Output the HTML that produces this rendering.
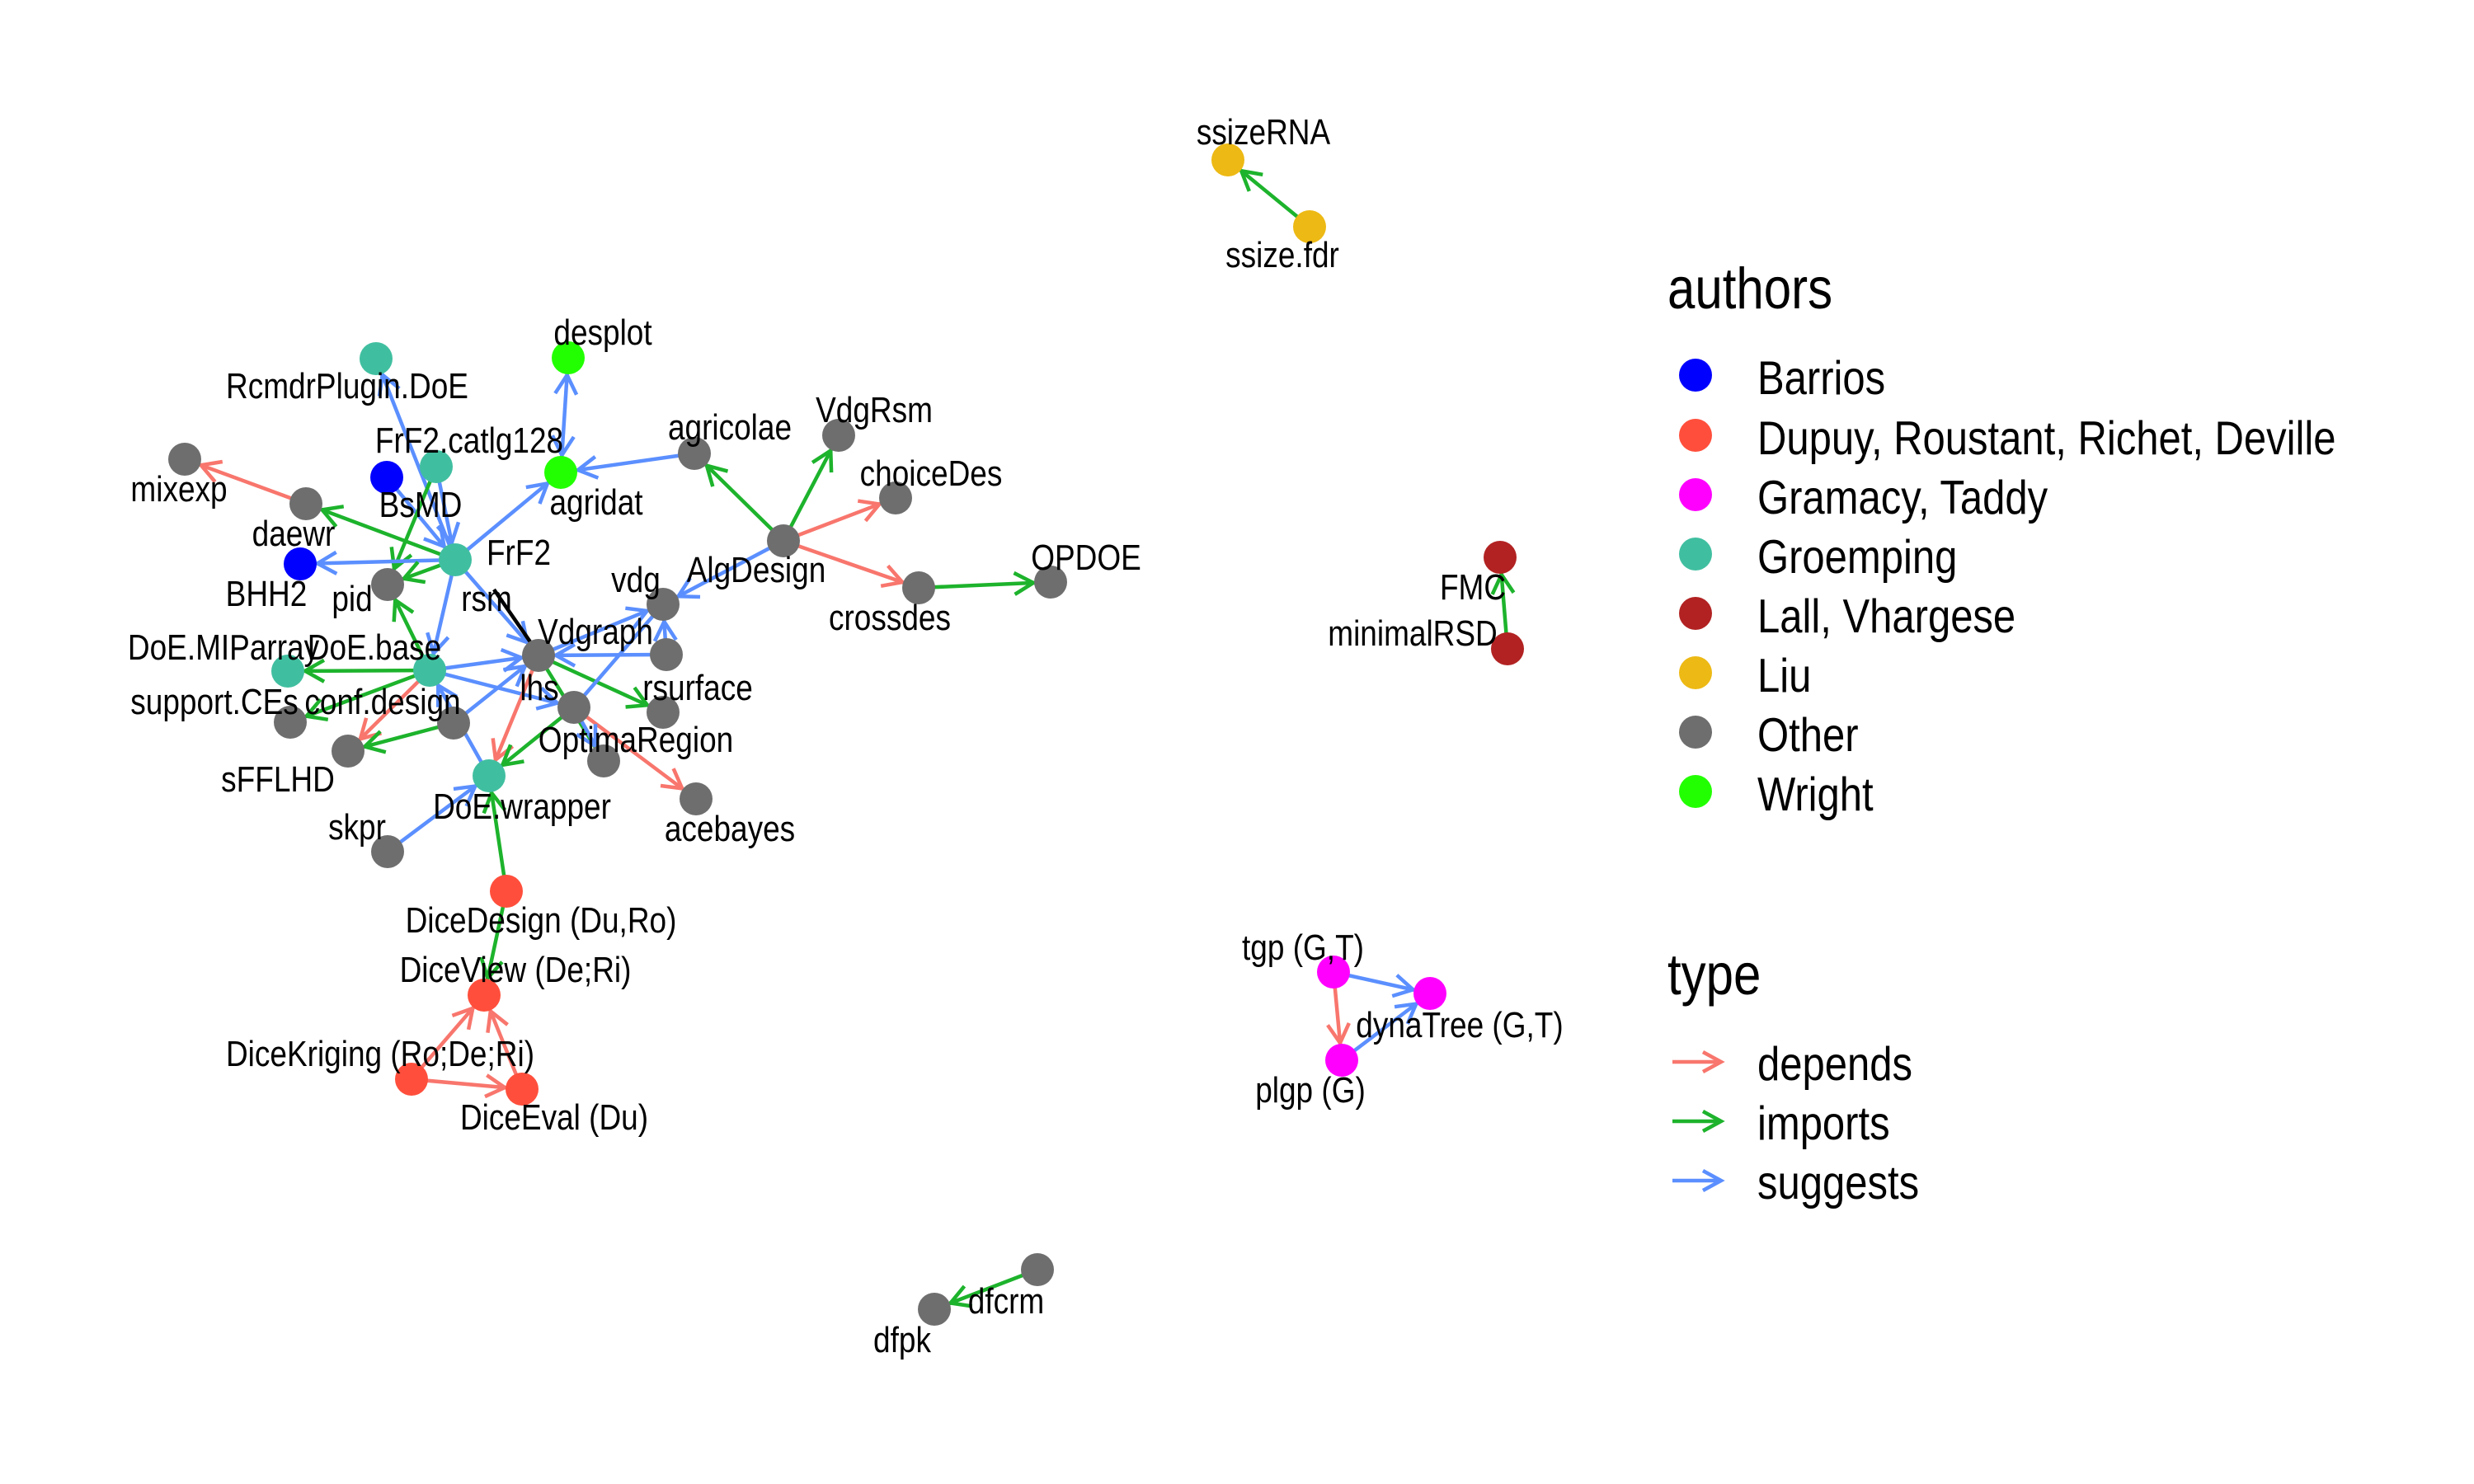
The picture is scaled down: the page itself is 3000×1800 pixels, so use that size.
<!DOCTYPE html>
<html><head><meta charset="utf-8"><style>
html,body{margin:0;padding:0;background:#fff;}
svg{display:block;font-family:"Liberation Sans",Arial,sans-serif;}
.l text{font-size:37px;text-anchor:middle;fill:#000;}
.e{stroke-width:4.5;fill:none;}
.d{stroke:#F8766D;} .i{stroke:#1DB32C;} .s{stroke:#5B8FFF;}
</style></head><body>
<svg width="3000" height="1800" viewBox="0 0 3000 1800" xmlns="http://www.w3.org/2000/svg">
<defs>
<marker id="md" markerUnits="userSpaceOnUse" markerWidth="80" markerHeight="60" viewBox="-60 -30 80 60" refX="0" refY="0" orient="auto-start-reverse"><path d="M-44,-13 L-21,0 L-44,13" fill="none" stroke="#F8766D" stroke-width="4.5"/></marker>
<marker id="mi" markerUnits="userSpaceOnUse" markerWidth="80" markerHeight="60" viewBox="-60 -30 80 60" refX="0" refY="0" orient="auto-start-reverse"><path d="M-44,-13 L-21,0 L-44,13" fill="none" stroke="#1DB32C" stroke-width="4.5"/></marker>
<marker id="ms" markerUnits="userSpaceOnUse" markerWidth="80" markerHeight="60" viewBox="-60 -30 80 60" refX="0" refY="0" orient="auto-start-reverse"><path d="M-44,-13 L-21,0 L-44,13" fill="none" stroke="#5B8FFF" stroke-width="4.5"/></marker>
</defs>

<g>
<line class="e s" x1="552" y1="679" x2="456" y2="435" marker-end="url(#ms)"/>
<line class="e s" x1="529" y1="566" x2="552" y2="679" marker-end="url(#ms)"/>
<line class="e s" x1="469" y1="579" x2="552" y2="679" marker-end="url(#ms)"/>
<line class="e i" x1="529" y1="566" x2="470" y2="709" marker-end="url(#mi)"/>
<line class="e i" x1="552" y1="679" x2="371" y2="611" marker-end="url(#mi)"/>
<line class="e s" x1="552" y1="679" x2="364" y2="684" marker-end="url(#ms)"/>
<line class="e i" x1="552" y1="679" x2="470" y2="709" marker-end="url(#mi)"/>
<line class="e s" x1="552" y1="679" x2="680" y2="573" marker-end="url(#ms)"/>
<line class="e s" x1="689" y1="434" x2="680" y2="573" marker-start="url(#ms)" marker-end="url(#ms)"/>
<line class="e s" x1="842" y1="550" x2="680" y2="573" marker-end="url(#ms)"/>
<line class="e d" x1="371" y1="611" x2="224" y2="557" marker-end="url(#md)"/>
<line class="e s" x1="552" y1="679" x2="653" y2="795" marker-end="url(#ms)"/>
<line class="e s" x1="552" y1="679" x2="521" y2="813" marker-end="url(#ms)"/>
<line class="e i" x1="521" y1="813" x2="470" y2="709" marker-end="url(#mi)"/>
<line class="e i" x1="521" y1="813" x2="349" y2="814" marker-end="url(#mi)"/>
<line class="e s" x1="521" y1="813" x2="653" y2="795" marker-end="url(#ms)"/>
<line class="e i" x1="521" y1="813" x2="352" y2="876" marker-end="url(#mi)"/>
<line class="e s" x1="521" y1="813" x2="696" y2="858" marker-end="url(#ms)"/>
<line class="e d" x1="521" y1="813" x2="422" y2="911" marker-end="url(#md)"/>
<line class="e i" x1="550" y1="877" x2="422" y2="911" marker-end="url(#mi)"/>
<line class="e s" x1="550" y1="877" x2="653" y2="795" marker-end="url(#ms)"/>
<line class="e s" x1="593" y1="941" x2="521" y2="813" marker-end="url(#ms)"/>
<line class="e d" x1="653" y1="795" x2="593" y2="941" marker-end="url(#md)"/>
<line class="e i" x1="696" y1="858" x2="593" y2="941" marker-end="url(#mi)"/>
<line class="e s" x1="470" y1="1033" x2="593" y2="941" marker-end="url(#ms)"/>
<line class="e i" x1="614" y1="1081" x2="593" y2="941" marker-end="url(#mi)"/>
<line class="e i" x1="614" y1="1081" x2="587" y2="1207" marker-end="url(#mi)"/>
<line class="e d" x1="499" y1="1309" x2="587" y2="1207" marker-end="url(#md)"/>
<line class="e d" x1="633" y1="1321" x2="587" y2="1207" marker-end="url(#md)"/>
<line class="e d" x1="499" y1="1309" x2="633" y2="1321" marker-end="url(#md)"/>
<line class="e i" x1="653" y1="795" x2="804" y2="864" marker-end="url(#mi)"/>
<line class="e s" x1="653" y1="795" x2="804" y2="733" marker-end="url(#ms)"/>
<line class="e s" x1="808" y1="794" x2="653" y2="795" marker-end="url(#ms)"/>
<line class="e s" x1="808" y1="794" x2="804" y2="733" marker-end="url(#ms)"/>
<line class="e s" x1="696" y1="858" x2="804" y2="733"/>
<line class="e d" x1="696" y1="858" x2="844" y2="969" marker-end="url(#md)"/>
<line class="e i" x1="653" y1="795" x2="732" y2="923"/>
<line class="e s" x1="696" y1="858" x2="732" y2="923" marker-end="url(#ms)"/>
<line x1="599" y1="715" x2="653" y2="793" stroke="#000" stroke-width="4.5"/>
<line class="e i" x1="950" y1="656" x2="842" y2="550" marker-end="url(#mi)"/>
<line class="e i" x1="950" y1="656" x2="1017" y2="528" marker-end="url(#mi)"/>
<line class="e d" x1="950" y1="656" x2="1086" y2="604" marker-end="url(#md)"/>
<line class="e d" x1="950" y1="656" x2="1114" y2="713" marker-end="url(#md)"/>
<line class="e s" x1="950" y1="656" x2="804" y2="733" marker-end="url(#ms)"/>
<line class="e i" x1="1114" y1="713" x2="1274" y2="706" marker-end="url(#mi)"/>
<line class="e i" x1="1588" y1="275" x2="1489" y2="194" marker-end="url(#mi)"/>
<line class="e i" x1="1828" y1="787" x2="1819" y2="676" marker-end="url(#mi)"/>
<line class="e s" x1="1617" y1="1179" x2="1734" y2="1205" marker-end="url(#ms)"/>
<line class="e d" x1="1617" y1="1179" x2="1627" y2="1286" marker-end="url(#md)"/>
<line class="e s" x1="1627" y1="1286" x2="1734" y2="1205" marker-end="url(#ms)"/>
<line class="e i" x1="1258" y1="1540" x2="1133" y2="1588" marker-end="url(#mi)"/>
</g>

<g>
<circle cx="456" cy="435" r="20" fill="#40BFA0"/>
<circle cx="689" cy="434" r="20" fill="#22FF00"/>
<circle cx="529" cy="566" r="20" fill="#40BFA0"/>
<circle cx="469" cy="579" r="20" fill="#0000FF"/>
<circle cx="680" cy="573" r="20" fill="#22FF00"/>
<circle cx="224" cy="557" r="20" fill="#6E6E6E"/>
<circle cx="371" cy="611" r="20" fill="#6E6E6E"/>
<circle cx="552" cy="679" r="20" fill="#40BFA0"/>
<circle cx="364" cy="684" r="20" fill="#0000FF"/>
<circle cx="470" cy="709" r="20" fill="#6E6E6E"/>
<circle cx="521" cy="813" r="20" fill="#40BFA0"/>
<circle cx="349" cy="814" r="20" fill="#40BFA0"/>
<circle cx="653" cy="795" r="20" fill="#6E6E6E"/>
<circle cx="804" cy="733" r="20" fill="#6E6E6E"/>
<circle cx="808" cy="794" r="20" fill="#6E6E6E"/>
<circle cx="352" cy="876" r="20" fill="#6E6E6E"/>
<circle cx="550" cy="877" r="20" fill="#6E6E6E"/>
<circle cx="422" cy="911" r="20" fill="#6E6E6E"/>
<circle cx="696" cy="858" r="20" fill="#6E6E6E"/>
<circle cx="732" cy="923" r="20" fill="#6E6E6E"/>
<circle cx="804" cy="864" r="20" fill="#6E6E6E"/>
<circle cx="593" cy="941" r="20" fill="#40BFA0"/>
<circle cx="844" cy="969" r="20" fill="#6E6E6E"/>
<circle cx="470" cy="1033" r="20" fill="#6E6E6E"/>
<circle cx="614" cy="1081" r="20" fill="#FF4F3C"/>
<circle cx="587" cy="1207" r="20" fill="#FF4F3C"/>
<circle cx="499" cy="1309" r="20" fill="#FF4F3C"/>
<circle cx="633" cy="1321" r="20" fill="#FF4F3C"/>
<circle cx="842" cy="550" r="20" fill="#6E6E6E"/>
<circle cx="1017" cy="528" r="20" fill="#6E6E6E"/>
<circle cx="1086" cy="604" r="20" fill="#6E6E6E"/>
<circle cx="950" cy="656" r="20" fill="#6E6E6E"/>
<circle cx="1114" cy="713" r="20" fill="#6E6E6E"/>
<circle cx="1274" cy="706" r="20" fill="#6E6E6E"/>
<circle cx="1489" cy="194" r="20" fill="#EDB914"/>
<circle cx="1588" cy="275" r="20" fill="#EDB914"/>
<circle cx="1819" cy="676" r="20" fill="#B22222"/>
<circle cx="1828" cy="787" r="20" fill="#B22222"/>
<circle cx="1617" cy="1179" r="20" fill="#FF00FF"/>
<circle cx="1734" cy="1205" r="20" fill="#FF00FF"/>
<circle cx="1627" cy="1286" r="20" fill="#FF00FF"/>
<circle cx="1258" cy="1540" r="20" fill="#6E6E6E"/>
<circle cx="1133" cy="1588" r="20" fill="#6E6E6E"/>
</g>

<g class="l">
<g transform="translate(1532,160) scale(1,1.17)"><text y="13">ssizeRNA</text></g>
<g transform="translate(1555,309) scale(1,1.17)"><text y="13">ssize.fdr</text></g>
<g transform="translate(731,403) scale(1,1.17)"><text y="13">desplot</text></g>
<g transform="translate(421,468) scale(1,1.17)"><text y="13">RcmdrPlugin.DoE</text></g>
<g transform="translate(885,518) scale(1,1.17)"><text y="13">agricolae</text></g>
<g transform="translate(1060,497) scale(1,1.17)"><text y="13">VdgRsm</text></g>
<g transform="translate(569,534) scale(1,1.17)"><text y="13">FrF2.catlg128</text></g>
<g transform="translate(1129,574) scale(1,1.17)"><text y="13">choiceDes</text></g>
<g transform="translate(217,593) scale(1,1.17)"><text y="13">mixexp</text></g>
<g transform="translate(510,612) scale(1,1.17)"><text y="13">BsMD</text></g>
<g transform="translate(723,609) scale(1,1.17)"><text y="13">agridat</text></g>
<g transform="translate(356,647) scale(1,1.17)"><text y="13">daewr</text></g>
<g transform="translate(629,670) scale(1,1.17)"><text y="13">FrF2</text></g>
<g transform="translate(1317,676) scale(1,1.17)"><text y="13">OPDOE</text></g>
<g transform="translate(917,691) scale(1,1.17)"><text y="13">AlgDesign</text></g>
<g transform="translate(771,703) scale(1,1.17)"><text y="13">vdg</text></g>
<g transform="translate(323,720) scale(1,1.17)"><text y="13">BHH2</text></g>
<g transform="translate(427,726) scale(1,1.17)"><text y="13">pid</text></g>
<g transform="translate(590,726) scale(1,1.17)"><text y="13">rsm</text></g>
<g transform="translate(1079,749) scale(1,1.17)"><text y="13">crossdes</text></g>
<g transform="translate(722,766) scale(1,1.17)"><text y="13">Vdgraph</text></g>
<g transform="translate(271,785) scale(1,1.17)"><text y="13">DoE.MIParray</text></g>
<g transform="translate(454,785) scale(1,1.17)"><text y="13">DoE.base</text></g>
<g transform="translate(654,834) scale(1,1.17)"><text y="13">lhs</text></g>
<g transform="translate(846,834) scale(1,1.17)"><text y="13">rsurface</text></g>
<g transform="translate(260,851) scale(1,1.17)"><text y="13">support.CEs</text></g>
<g transform="translate(464,851) scale(1,1.17)"><text y="13">conf.design</text></g>
<g transform="translate(771,897) scale(1,1.17)"><text y="13">OptimaRegion</text></g>
<g transform="translate(337,945) scale(1,1.17)"><text y="13">sFFLHD</text></g>
<g transform="translate(633,978) scale(1,1.17)"><text y="13">DoE.wrapper</text></g>
<g transform="translate(885,1005) scale(1,1.17)"><text y="13">acebayes</text></g>
<g transform="translate(433,1003) scale(1,1.17)"><text y="13">skpr</text></g>
<g transform="translate(656,1116) scale(1,1.17)"><text y="13">DiceDesign (Du,Ro)</text></g>
<g transform="translate(625,1176) scale(1,1.17)"><text y="13">DiceView (De;Ri)</text></g>
<g transform="translate(461,1278) scale(1,1.17)"><text y="13">DiceKriging (Ro;De;Ri)</text></g>
<g transform="translate(672,1355) scale(1,1.17)"><text y="13">DiceEval (Du)</text></g>
<g transform="translate(1580,1149) scale(1,1.17)"><text y="13">tgp (G,T)</text></g>
<g transform="translate(1770,1243) scale(1,1.17)"><text y="13">dynaTree (G,T)</text></g>
<g transform="translate(1589,1322) scale(1,1.17)"><text y="13">plgp (G)</text></g>
<g transform="translate(1786,712) scale(1,1.17)"><text y="13">FMC</text></g>
<g transform="translate(1713,768) scale(1,1.17)"><text y="13">minimalRSD</text></g>
<g transform="translate(1220,1578) scale(1,1.17)"><text y="13">dfcrm</text></g>
<g transform="translate(1094,1625) scale(1,1.17)"><text y="13">dfpk</text></g>
</g>

<g font-size="60"><g transform="translate(2022,374) scale(1,1.17)"><text>authors</text></g></g>
<g>
<circle cx="2056" cy="455" r="20" fill="#0000FF"/>
<circle cx="2056" cy="528" r="20" fill="#FF4F3C"/>
<circle cx="2056" cy="600" r="20" fill="#FF00FF"/>
<circle cx="2056" cy="672" r="20" fill="#40BFA0"/>
<circle cx="2056" cy="744" r="20" fill="#B22222"/>
<circle cx="2056" cy="816" r="20" fill="#EDB914"/>
<circle cx="2056" cy="888" r="20" fill="#6E6E6E"/>
<circle cx="2056" cy="960" r="20" fill="#22FF00"/>
</g>
<g font-size="49">
<g transform="translate(2131,478) scale(1,1.17)"><text>Barrios</text></g>
<g transform="translate(2131,551) scale(1,1.17)"><text>Dupuy, Roustant, Richet, Deville</text></g>
<g transform="translate(2131,623) scale(1,1.17)"><text>Gramacy, Taddy</text></g>
<g transform="translate(2131,695) scale(1,1.17)"><text>Groemping</text></g>
<g transform="translate(2131,767) scale(1,1.17)"><text>Lall, Vhargese</text></g>
<g transform="translate(2131,839) scale(1,1.17)"><text>Liu</text></g>
<g transform="translate(2131,911) scale(1,1.17)"><text>Other</text></g>
<g transform="translate(2131,983) scale(1,1.17)"><text>Wright</text></g>
</g>

<g font-size="60"><g transform="translate(2022,1206) scale(1,1.17)"><text>type</text></g></g>
<line x1="2028" y1="1288" x2="2087" y2="1288" stroke="#F8766D" stroke-width="4.5"/>
<path d="M2065,1276 L2087,1288 L2065,1300" fill="none" stroke="#F8766D" stroke-width="4.5"/>
<line x1="2028" y1="1360" x2="2087" y2="1360" stroke="#1DB32C" stroke-width="4.5"/>
<path d="M2065,1348 L2087,1360 L2065,1372" fill="none" stroke="#1DB32C" stroke-width="4.5"/>
<line x1="2028" y1="1432" x2="2087" y2="1432" stroke="#5B8FFF" stroke-width="4.5"/>
<path d="M2065,1420 L2087,1432 L2065,1444" fill="none" stroke="#5B8FFF" stroke-width="4.5"/>
<g font-size="49">
<g transform="translate(2131,1310) scale(1,1.17)"><text>depends</text></g>
<g transform="translate(2131,1382) scale(1,1.17)"><text>imports</text></g>
<g transform="translate(2131,1454) scale(1,1.17)"><text>suggests</text></g>
</g>
</svg>
</body></html>
